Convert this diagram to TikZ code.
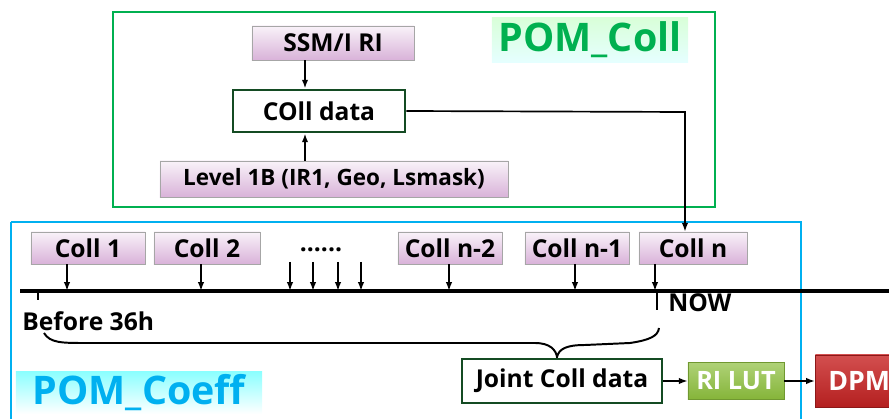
\documentclass[tikz,border=0pt]{standalone}
\usepackage{fontspec}
\setmainfont{Open Sans}
\usetikzlibrary{arrows.meta,positioning}
\definecolor{collgreen}{RGB}{0,176,80}
\definecolor{coeffblue}{RGB}{0,176,240}
\definecolor{darkbox}{RGB}{20,75,35}
\definecolor{lutgreen}{RGB}{140,190,60}
\definecolor{dpmred}{RGB}{200,35,35}

\begin{document}
\begin{tikzpicture}[x=0.025cm, y=-0.025cm, >={Latex[length=2.2mm,width=1.6mm]},
  every node/.style={font=\bfseries\fontsize{17.5}{19}\selectfont, inner sep=0pt},
  purplebox/.style={draw=black!35, top color=violet!5, bottom color=violet!30, minimum height=0.85cm},
  databox/.style={draw=darkbox, line width=2pt, fill=white},
  arr/.style={->, line width=1.2pt}]
\useasboundingbox (0,0) rectangle (889,419);
% outer frames
\draw[collgreen, line width=1.6pt] (113,12) rectangle (715,207);
\draw[coeffblue, line width=2pt] (11,222) -- (801,222) -- (801,425) (11,425) -- (11,222);
\node[top color=green!15, bottom color=cyan!10, text=collgreen, font=\bfseries\fontsize{28}{30}\selectfont,
  minimum width=4.9cm, minimum height=1.1cm] (pomcoll) at (590,40) {POM\_Coll};
\node[top color=cyan!45, bottom color=white, text=coeffblue, font=\bfseries\fontsize{28}{30}\selectfont,
  minimum width=6.15cm, minimum height=1.05cm] (pomcoeff) at (139,393) {POM\_Coeff};

% POM_Coll part
\node[purplebox, minimum width=4.05cm] (ssmi) at (333,43) {SSM/I RI};
\node[databox, minimum width=4.3cm, minimum height=1.05cm] (colldata) at (319,111) {COll data};
\node[purplebox, minimum width=8.7cm, minimum height=0.9cm, font=\bfseries\fontsize{16}{18}\selectfont] (level) at (334,179) {Level 1B (IR1, Geo, Lsmask)};
\draw[arr] (ssmi.south -| 305,0) -- (colldata.north -| 305,0);
\draw[arr] (level.north -| 305,0) -- (colldata.south -| 305,0);

% collections on the time line
\node[purplebox, minimum width=2.85cm, minimum height=0.8cm] (c1) at (88,248) {Coll 1};
\node[purplebox, minimum width=2.65cm, minimum height=0.8cm] (c2) at (207,248) {Coll 2};
\node[purplebox, minimum width=2.6cm, minimum height=0.8cm] (cn2) at (450,248) {Coll n-2};
\node[purplebox, minimum width=2.6cm, minimum height=0.8cm] (cn1) at (577,248) {Coll n-1};
\node[purplebox, minimum width=2.7cm, minimum height=0.8cm] (cn) at (693,248) {Coll n};
\node (dots) at (321,250) {......};
\coordinate (tl0) at (20,291);
\coordinate (tl1) at (889,291);
\draw[line width=2.4pt] (tl0) -- (tl1);
\coordinate (t1) at (67,291);
\coordinate (t2) at (201,291);
\coordinate (tn2) at (449,291);
\coordinate (tn1) at (575,291);
\coordinate (tn) at (655,291);
\draw[arr] (c1.south -| t1) -- (t1);
\draw[arr] (c2.south -| t2) -- (t2);
\draw[arr] (cn2.south -| tn2) -- (tn2);
\draw[arr] (cn1.south -| tn1) -- (tn1);
\draw[arr] (cn.south -| tn) -- (tn);
\foreach \x in {290,313,338,361}
  \draw[arr] (\x,262) -- (\x,291);
\draw[arr] (colldata.east) -- (685,112) -- (cn.north -| 685,0);

% start and end of the window
\coordinate (start) at (38,291);
\coordinate (now) at (657,291);
\draw[line width=1.4pt] (start) -- ++(0,9);
\draw[line width=1.4pt] (now) -- ++(0,19);
\node[anchor=west] (before) at (22,321) {Before 36h};
\node[anchor=west] (nowlabel) at (668,303) {NOW};

% brace
\draw[line width=1.4pt] (44,333) .. controls (50,343) and (62,343) .. (85,343) -- (535,343)
  .. controls (550,343) and (556,350) .. (557,357)
  .. controls (559,349) and (566,345) .. (585,345) -- (630,343)
  .. controls (650,340) and (658,336) .. (659,328);

% output chain
\node[databox, minimum width=5cm, minimum height=1.1cm] (joint) at (562,381) {Joint Coll data};
\node[draw=lutgreen!80!black, top color=lutgreen!70, bottom color=lutgreen!95!black, text=white,
  font=\bfseries\fontsize{18}{20}\selectfont, minimum width=2.4cm, minimum height=0.92cm] (rilut) at (736,381) {RI LUT};
\node[draw=dpmred!70!black, top color=dpmred!80, bottom color=dpmred!90!black, text=white,
  font=\bfseries\fontsize{19}{21}\selectfont, minimum width=2.2cm, minimum height=1.3cm, anchor=west] (dpm) at (815,381) {DPM};
\draw[arr] (joint.east) -- (rilut.west);
\draw[arr] (rilut.east) -- (dpm.west);
\end{tikzpicture}
\end{document}
